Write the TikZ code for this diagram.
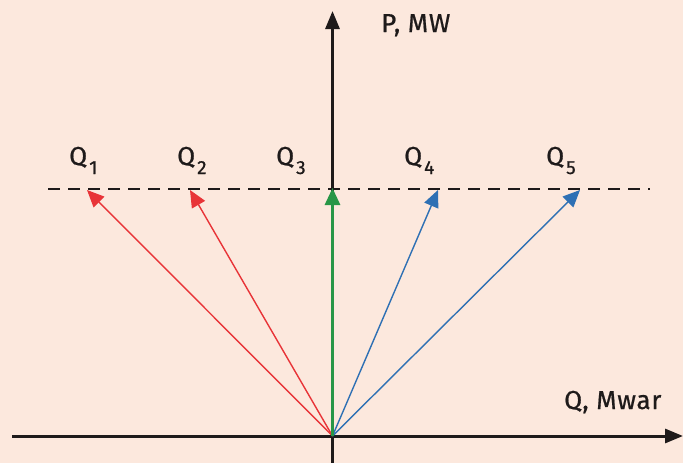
\documentclass[tikz,border=0pt]{standalone}
\usepackage{fontspec}
\setmainfont{Fira Sans}
\newfontfamily\labfont[FakeBold=0.7,LetterSpace=3]{Fira Sans}
\usetikzlibrary{arrows.meta}
\definecolor{bgc}{RGB}{252,232,221}
\definecolor{vred}{RGB}{232,52,56}
\definecolor{vblue}{RGB}{46,112,180}
\definecolor{vgreen}{RGB}{40,150,70}
\definecolor{ink}{RGB}{30,26,26}
\newcommand{\qsub}[1]{\raisebox{-9pt}{\fontsize{19}{20}\selectfont #1}}
\begin{document}
\begin{tikzpicture}[x=1pt,y=-1pt,
  axis/.style={draw=ink,line width=3pt,-{Triangle[length=18pt,width=14pt]}},
  vec/.style={line width=1.4pt,-{Triangle[length=17pt,width=15pt]}},
  lab/.style={font=\labfont\fontsize{26}{28}\selectfont,text=ink,inner sep=0pt},
  qlab/.style={font=\labfont\fontsize{26}{28}\selectfont,text=ink,inner sep=0pt,anchor=base west}]
\useasboundingbox[fill=bgc] (0,0) rectangle (683,463);
\coordinate (O) at (332.5,436);
\coordinate (xs) at (12,436);
\coordinate (xe) at (683,436);
\coordinate (ys) at (332.5,463);
\coordinate (ye) at (332.5,11);
\coordinate (dl) at (48,189);
\coordinate (dr) at (650,189);
\coordinate (t1) at (87,190);
\coordinate (t2) at (190,190);
\coordinate (t3) at (332.5,188);
\coordinate (t4) at (438,190);
\coordinate (t5) at (580,190);
\draw[axis] (xs) -- (xe);
\draw[axis] (ys) -- (ye);
\draw[ink,line width=1.6pt,dash pattern=on 12pt off 8pt] (dl) -- (dr);
\draw[vec,vred] (O) -- (t1);
\draw[vec,vred] (O) -- (t2);
\draw[vec,vblue] (O) -- (t4);
\draw[vec,vblue] (O) -- (t5);
\draw[vgreen,line width=3pt,-{Triangle[length=17pt,width=15pt]}] (O) -- (t3);
\node[lab,anchor=base west] (pl) at (381,32) {P, MW};
\node[lab,anchor=base west] (ql) at (564,409) {Q, Mwar};
\node[qlab] (q1) at (69,165) {Q\kern2pt\qsub{1}};
\node[qlab] (q2) at (177,165) {Q\kern2pt\qsub{2}};
\node[qlab] (q3) at (276,165) {Q\kern2pt\qsub{3}};
\node[qlab] (q4) at (404,165) {Q\kern2pt\qsub{4}};
\node[qlab] (q5) at (546,165) {Q\kern2pt\qsub{5}};
\end{tikzpicture}
\end{document}
